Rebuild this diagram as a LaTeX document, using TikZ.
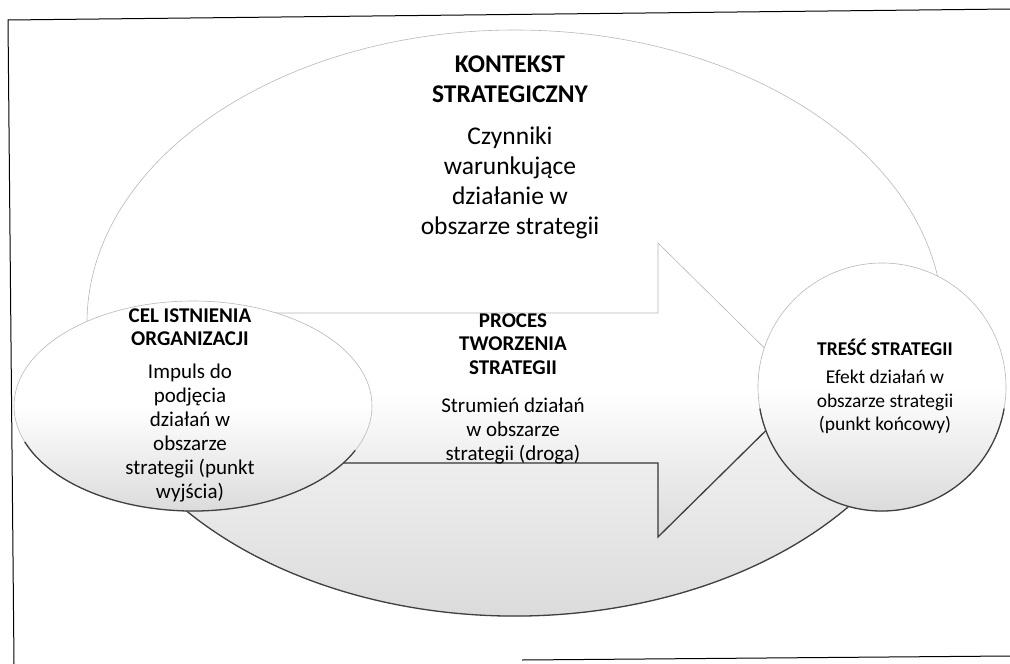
\documentclass[tikz,border=0pt]{standalone}
\usepackage{fontspec}
\setmainfont{Carlito}
\usetikzlibrary{positioning}

\tikzset{
  shapefill/.style={top color=white, bottom color=black!14, middle color=white, draw=black!28, line width=0.6pt},
  darkedge/.style={draw=black!75, line width=1.3pt},
  titleL/.style={font=\fontsize{25.5}{30}\selectfont\bfseries, align=center, inner sep=0pt, anchor=north},
  bodyL/.style={font=\fontsize{25.5}{30}\selectfont, align=center, inner sep=0pt, anchor=north},
  titleM/.style={font=\fontsize{21}{23.5}\selectfont\bfseries, align=center, inner sep=0pt, anchor=north},
  bodyM/.style={font=\fontsize{21}{24}\selectfont, align=center, inner sep=0pt, anchor=north},
  titleS/.style={font=\fontsize{19.5}{23.5}\selectfont\bfseries, align=center, inner sep=0pt, anchor=north},
  bodyS/.style={font=\fontsize{19.5}{23.5}\selectfont, align=center, inner sep=0pt, anchor=north}
}

\begin{document}
\begin{tikzpicture}[x=1pt, y=1pt]
  \useasboundingbox (0,0) rectangle (1010,-664);

  % frame
  \draw [line width=1pt] (14,-664) -- (8,-20) -- (1010,-9);
  \draw [line width=1pt] (522,-660) -- (1010,-656);

  % context
  \draw [shapefill] (515,-323) ellipse [x radius=428, y radius=293];
  \draw [darkedge] (515,-323) ++(195:428 and 293) arc [start angle=195, end angle=345, x radius=428, y radius=293];

  % process arrow
  \draw [shapefill] (120,-313) -- (658,-313) -- (658,-243) -- (807,-390) -- (658,-537) -- (658,-463) -- (120,-463) -- cycle;
  \draw [darkedge] (120,-463) -- (658,-463) -- (658,-537) -- (807,-390);

  % start and end
  \draw [shapefill] (193,-406) ellipse [x radius=179, y radius=105];
  \draw [darkedge] (193,-406) ++(200:179 and 105) arc [start angle=200, end angle=335, x radius=179, y radius=105];
  \draw [shapefill] (882,-387) circle [radius=124];
  \draw [darkedge] (882,-387) ++(190:124) arc [start angle=190, end angle=350, radius=124];

  \node [titleL] (kontekst) at (510,-51) {\strut KONTEKST\\STRATEGICZNY\strut};
  \node [bodyL, below=12pt of kontekst] (czynniki) {\strut Czynniki\\warunkujące\\działanie w\\obszarze strategii};

  \node [titleM] (cel) at (190,-305.5) {\strut CEL ISTNIENIA\\ORGANIZACJI\strut};
  \node [bodyM, below=9pt of cel] (impuls) {\strut Impuls do\\podjęcia\\działań w\\obszarze\\strategii (punkt\\wyjścia)};

  \node [titleM] (proces) at (513,-310.5) {\strut PROCES\\TWORZENIA\\STRATEGII\strut};
  \node [bodyM, below=14pt of proces] (strumien) {\strut Strumień działań\\w obszarze\\strategii (droga)};

  \node [titleS] (tresc) at (885,-338.5) {\strut TREŚĆ STRATEGII};
  \node [bodyS, below=4.5pt of tresc] (efekt) {\strut Efekt działań w\\obszarze strategii\\(punkt końcowy)};

\end{tikzpicture}
\end{document}
